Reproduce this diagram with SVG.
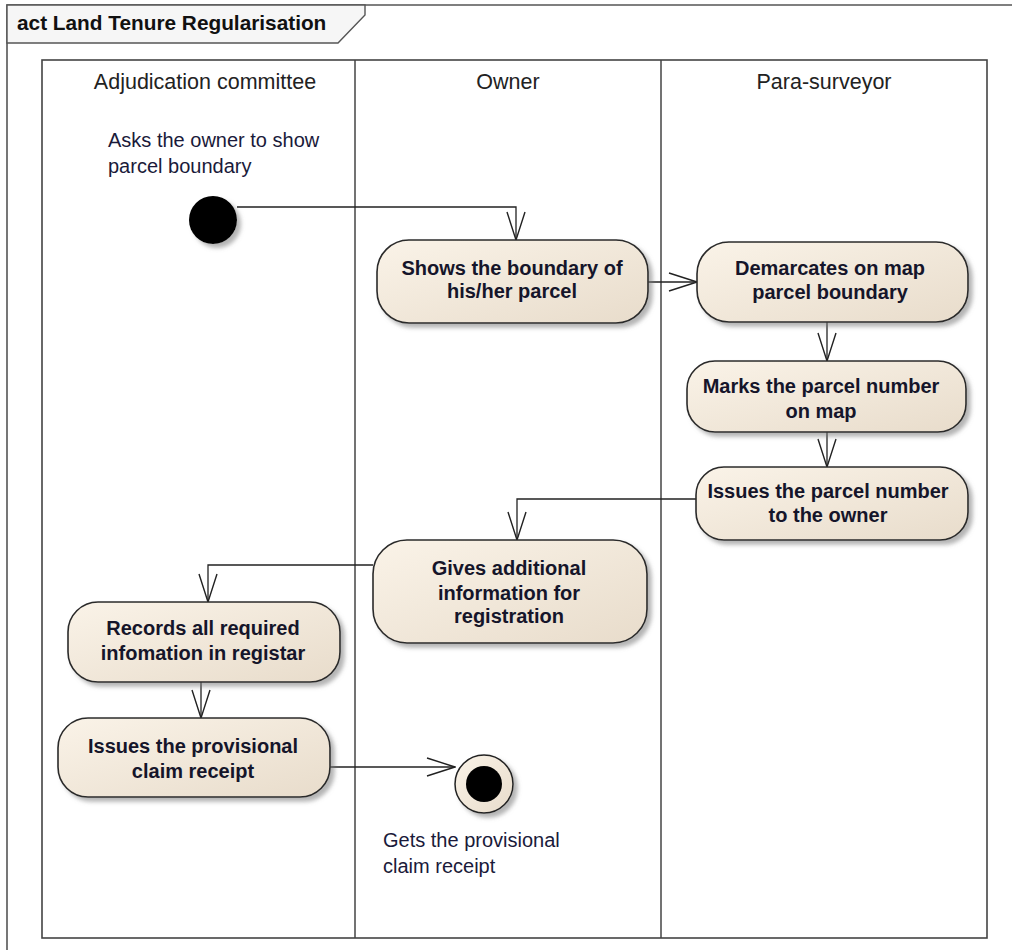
<svg xmlns="http://www.w3.org/2000/svg" width="1012" height="950" viewBox="0 0 1012 950">
<defs>
<linearGradient id="g" x1="0" y1="0" x2="1" y2="1">
<stop offset="0" stop-color="#faf3e8"/>
<stop offset="1" stop-color="#e8dccb"/>
</linearGradient>
<filter id="sh" x="-10%" y="-10%" width="130%" height="140%">
<feDropShadow dx="4" dy="4" stdDeviation="2" flood-color="#777" flood-opacity="0.55"/>
</filter>
<marker id="arr" viewBox="0 0 30 20" refX="29" refY="10" markerWidth="30" markerHeight="20" markerUnits="userSpaceOnUse" orient="auto">
<path d="M1,1 L29,10 L1,19" fill="none" stroke="#222" stroke-width="1.4"/>
</marker>
</defs>
<style>
.act rect{fill:url(#g);stroke:#2a2a2a;stroke-width:1.6;filter:url(#sh)}
.act text{font-family:"Liberation Sans",Arial,sans-serif;font-weight:bold;font-size:20px;fill:#15152a;text-anchor:middle}
.note{font-family:"Liberation Sans",Arial,sans-serif;font-size:20px;fill:#1a1a3a}
.hdr{font-family:"Liberation Sans",Arial,sans-serif;font-size:21.5px;fill:#222;text-anchor:middle}
.conn path{fill:none;stroke:#222;stroke-width:1.3;marker-end:url(#arr)}
</style>
<rect width="1012" height="950" fill="#fff"/>
<g id="frame">
<path d="M7,950 V5 H1012" fill="none" stroke="#555" stroke-width="1.6"/>
<path d="M7,5 H365 V15 L338,43 H7 Z" fill="#f6f6f6" stroke="#555" stroke-width="1.4"/>
<text x="17" y="30" style="font-family:'Liberation Sans',Arial,sans-serif;font-weight:bold;font-size:20.8px;fill:#111">act Land Tenure Regularisation</text>
</g>
<g id="lanes">
<rect x="42" y="60" width="945" height="878" fill="none" stroke="#444" stroke-width="1.6"/>
<line x1="355" y1="60" x2="355" y2="938" stroke="#444" stroke-width="1.5"/>
<line x1="661" y1="60" x2="661" y2="938" stroke="#444" stroke-width="1.5"/>
<text class="hdr" x="205" y="89">Adjudication committee</text>
<text class="hdr" x="508" y="89">Owner</text>
<text class="hdr" x="824" y="89">Para-surveyor</text>
</g>
<g id="start">
<circle cx="213" cy="220" r="24" fill="#000" filter="url(#sh)"/>
<text class="note" x="108" y="147">Asks the owner to show</text>
<text class="note" x="108" y="173">parcel boundary</text>
</g>
<g class="conn" id="connectors">
<path d="M237,207 H516 V240"/>
<path d="M648,282 H697"/>
<path d="M827,322 V361"/>
<path d="M827,432 V467"/>
<path d="M696,499 H517 V540"/>
<path d="M373,565 H208 V602"/>
<path d="M201,682 V718"/>
<path d="M330,767 H455"/>
</g>
<g class="act" id="n1"><rect x="377" y="240" width="271" height="83" rx="32"/>
<text x="512" y="275">Shows the boundary of</text><text x="512" y="298">his/her parcel</text></g>
<g class="act" id="n2"><rect x="697" y="242" width="271" height="80" rx="32"/>
<text x="830" y="275">Demarcates on map</text><text x="830" y="299">parcel boundary</text></g>
<g class="act" id="n3"><rect x="687" y="361" width="279" height="71" rx="28"/>
<text x="821" y="393">Marks the parcel number</text><text x="821" y="418">on map</text></g>
<g class="act" id="n4"><rect x="696" y="467" width="272" height="73" rx="28"/>
<text x="828" y="498">Issues the parcel number</text><text x="828" y="522">to the owner</text></g>
<g class="act" id="n5"><rect x="373" y="540" width="274" height="103" rx="34"/>
<text x="509" y="575">Gives additional</text><text x="509" y="600">information for</text><text x="509" y="623">registration</text></g>
<g class="act" id="n6"><rect x="68" y="602" width="272" height="80" rx="30"/>
<text x="203" y="635">Records all required</text><text x="203" y="660">infomation in registar</text></g>
<g class="act" id="n7"><rect x="58" y="718" width="272" height="79" rx="30"/>
<text x="193" y="753">Issues the provisional</text><text x="193" y="778">claim receipt</text></g>
<g id="final">
<circle cx="484" cy="784" r="29" fill="url(#g)" stroke="#222" stroke-width="1.5" filter="url(#sh)"/>
<circle cx="484" cy="784" r="18" fill="#000"/>
<text class="note" x="383" y="847">Gets the provisional</text>
<text class="note" x="383" y="873">claim receipt</text>
</g>
</svg>
